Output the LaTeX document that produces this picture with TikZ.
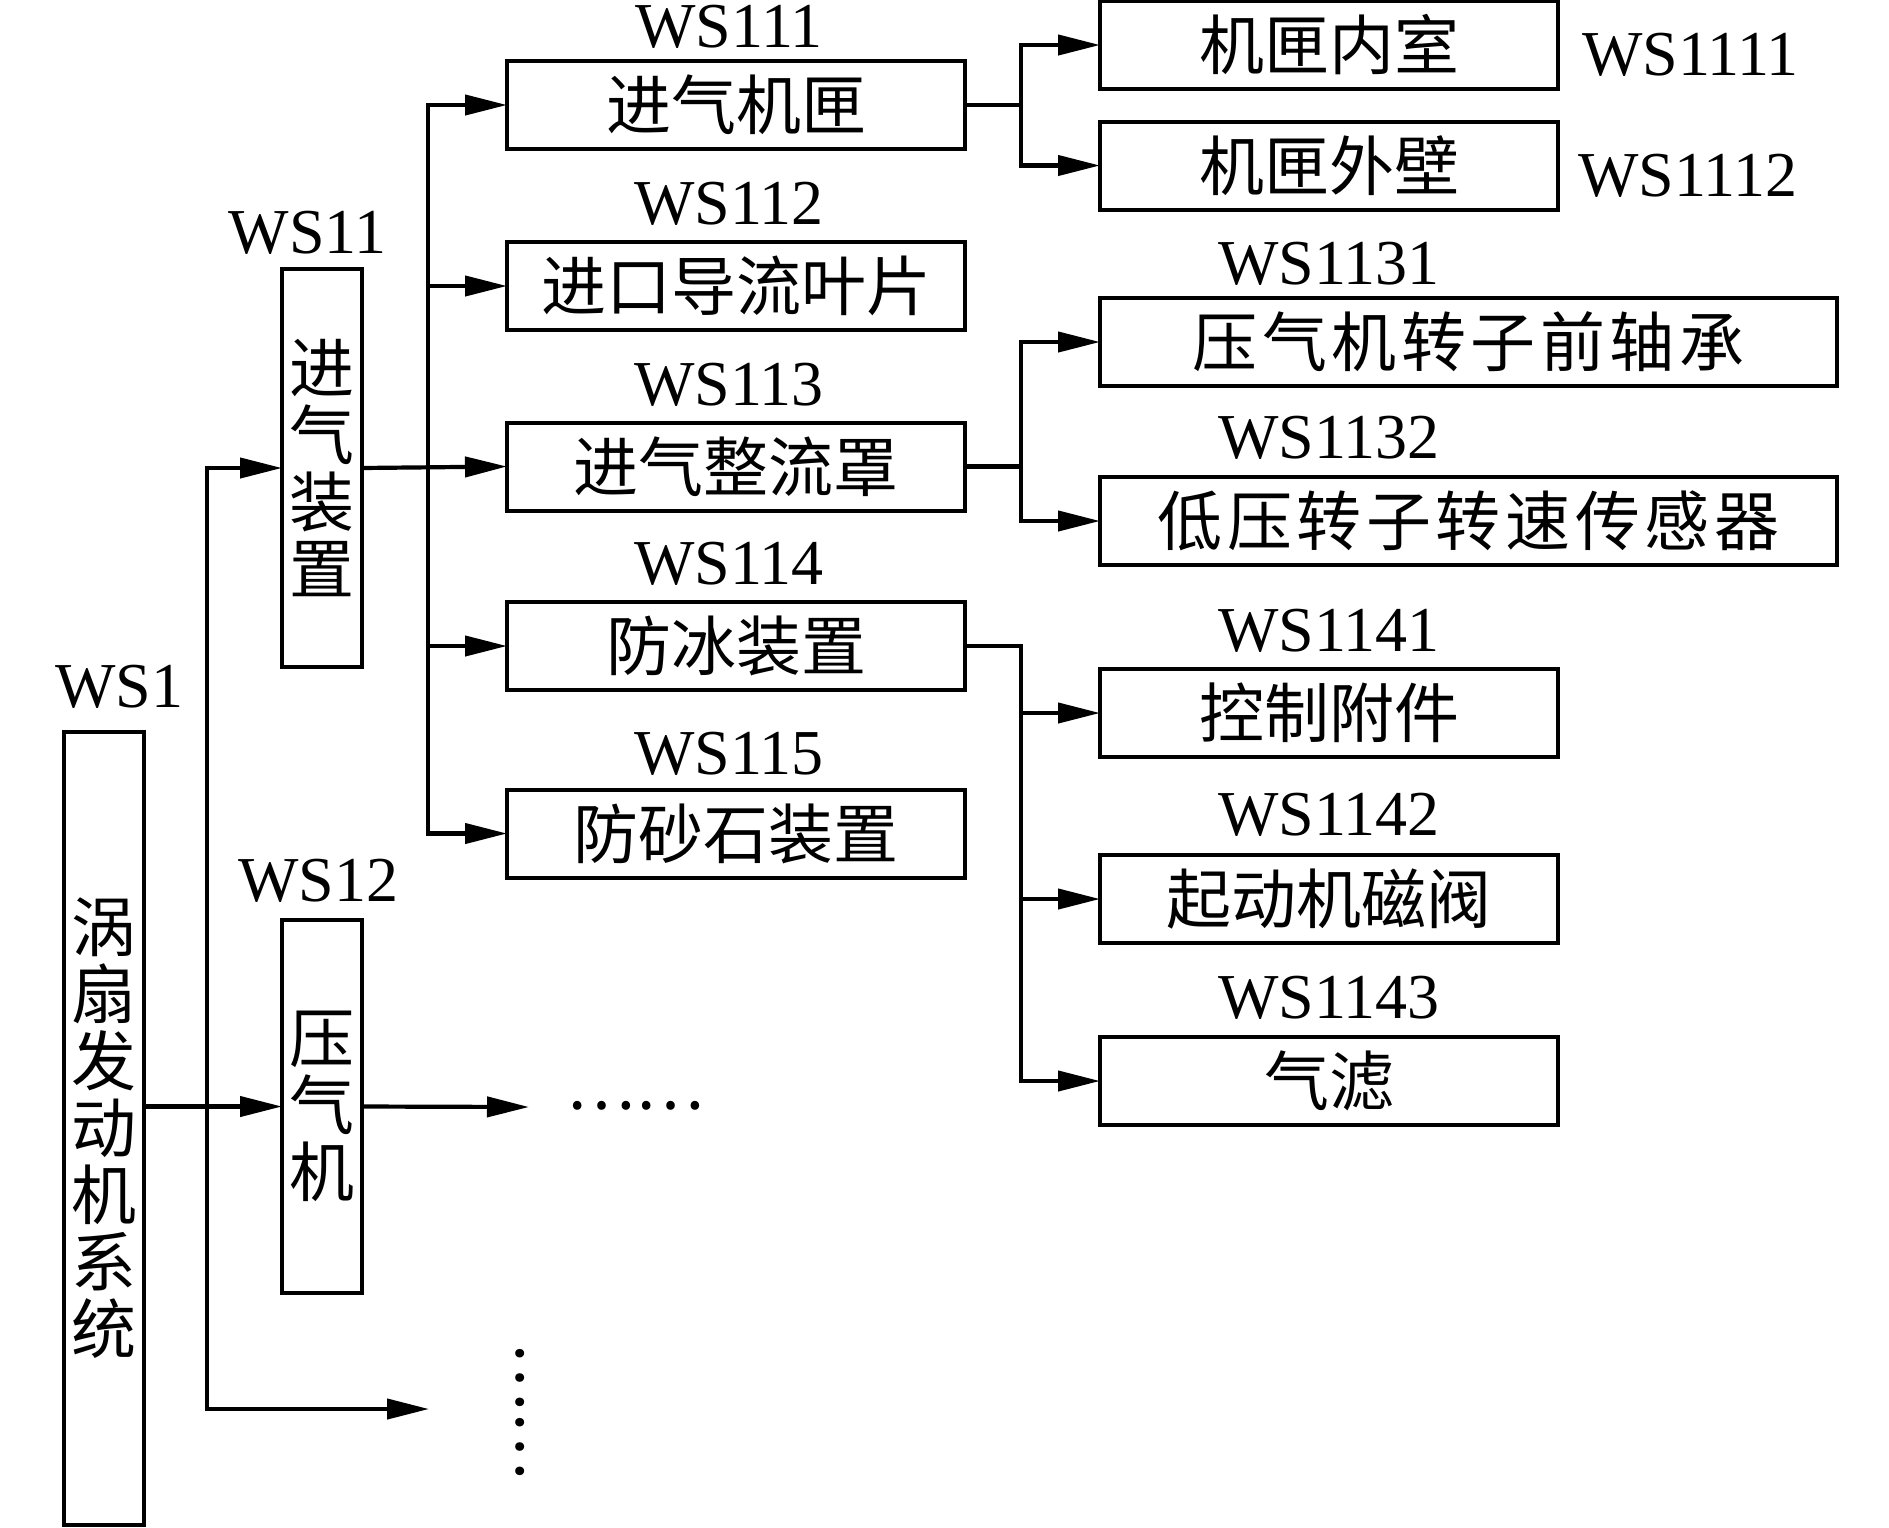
\documentclass[tikz,border=0pt]{standalone}
\usepackage{fontspec}
\setmainfont{Liberation Serif}
\newfontfamily\cjk{Noto Sans CJK SC}
\usetikzlibrary{arrows.meta}
\begin{document}
\begin{tikzpicture}[x=0.5pt,y=-0.5pt,
  every node/.style={inner sep=0pt, outer sep=0pt},
  box/.style={draw, line width=2pt, font=\cjk\fontsize{32.5pt}{33.5pt}\selectfont, align=center},
  hb/.style={box, minimum width=229pt, minimum height=44pt},
  wb/.style={box, minimum width=368.5pt, minimum height=44pt},
  vb/.style={box, minimum width=40pt},
  lab/.style={font=\fontsize{32pt}{34pt}\selectfont, anchor=base},
  labw/.style={lab, anchor=base west},
  dots/.style={font=\cjk\fontsize{32.5pt}{33.5pt}\selectfont},
  line/.style={line width=2.1pt},
  arr/.style={line, -{Triangle[length=21pt,width=10pt]}},
]
\useasboundingbox (0,0) rectangle (1889,1527);

% level 1 and 2 boxes
\node[vb, minimum height=396.5pt] (ws1) at (104,1128.5) {涡\\扇\\发\\动\\机\\系\\统};
\node[vb, minimum height=199pt] (ws11) at (322,468) {进\\气\\装\\置};
\node[vb, minimum height=186.5pt] (ws12) at (322,1106.5) {压\\气\\机};

% level 3 boxes
\node[hb] (ws111) at (736,105) {进气机匣};
\node[hb] (ws112) at (736,286) {进口导流叶片};
\node[hb] (ws113) at (736,466.5) {进气整流罩};
\node[hb] (ws114) at (736,646) {防冰装置};
\node[hb] (ws115) at (736,833.5) {防砂石装置};

% level 4 boxes
\node[hb] (ws1111) at (1329,45) {机匣内室};
\node[hb] (ws1112) at (1329,165.5) {机匣外壁};
\node[wb] (ws1131) at (1468.5,342) {\addfontfeature{LetterSpace=7}压气机转子前轴承};
\node[wb] (ws1132) at (1468.5,521) {\addfontfeature{LetterSpace=7}低压转子转速传感器};
\node[hb] (ws1141) at (1329,713) {控制附件};
\node[hb] (ws1142) at (1329,899) {起动机磁阀};
\node[hb] (ws1143) at (1329,1081) {气滤};

% labels
\node[lab] (l1) at (119,707) {WS1};
\node[lab] (l11) at (307.5,253) {WS11};
\node[lab] (l12) at (318.5,901) {WS12};
\node[lab] (l111) at (729,47) {WS111};
\node[lab] (l112) at (729,224) {WS112};
\node[lab] (l113) at (729,405) {WS113};
\node[lab] (l114) at (729,584) {WS114};
\node[lab] (l115) at (729,774) {WS115};
\node[labw] (l1111) at (1582,75.5) {WS1111};
\node[labw] (l1112) at (1578,196) {WS1112};
\node[lab] (l1131) at (1329,284) {WS1131};
\node[lab] (l1132) at (1329,458) {WS1132};
\node[lab] (l1141) at (1329,651) {WS1141};
\node[lab] (l1142) at (1329,835.5) {WS1142};
\node[lab] (l1143) at (1329,1018) {WS1143};

% ellipses
\node[dots, anchor=base] (hd) at (635.5,1109) {……};
\node[dots, rotate=-90] (vd) at (520,1411.5) {……};

% level 1 connectors
\coordinate (a1) at (207,468);
\coordinate (a2) at (207,1409);
\coordinate (b1) at (429,1409);
\coordinate (c1) at (529,1107);
\draw[arr] (a2) |- (ws11.west);
\draw[arr] (a1) |- (b1);
\draw[arr] (ws1.east |- ws12.west) -- (ws12.west);
\draw[arr] (ws12.east) -- (c1);

% level 2 connectors
\coordinate (t2) at (428,0);
\draw[arr] (ws11.east) -- (ws113.west);
\draw[arr] (t2 |- ws115.west) |- (ws111.west);
\draw[arr] (t2 |- ws111.west) |- (ws115.west);
\draw[arr] (t2 |- ws112.west) -- (ws112.west);
\draw[arr] (t2 |- ws114.west) -- (ws114.west);

% level 3 connectors
\coordinate (t3) at (1021,0);
\draw[line] (ws111.east) -- (t3 |- ws111.east);
\draw[arr] (t3 |- ws111.east) |- (ws1111.west);
\draw[arr] (t3 |- ws111.east) |- (ws1112.west);
\draw[line] (ws113.east) -- (t3 |- ws113.east);
\draw[arr] (t3 |- ws113.east) |- (ws1131.west);
\draw[arr] (t3 |- ws113.east) |- (ws1132.west);
\draw[arr] (ws114.east) -| (t3 |- ws1143.west) -- (ws1143.west);
\draw[arr] (t3 |- ws1141.west) -- (ws1141.west);
\draw[arr] (t3 |- ws1142.west) -- (ws1142.west);
\end{tikzpicture}
\end{document}
